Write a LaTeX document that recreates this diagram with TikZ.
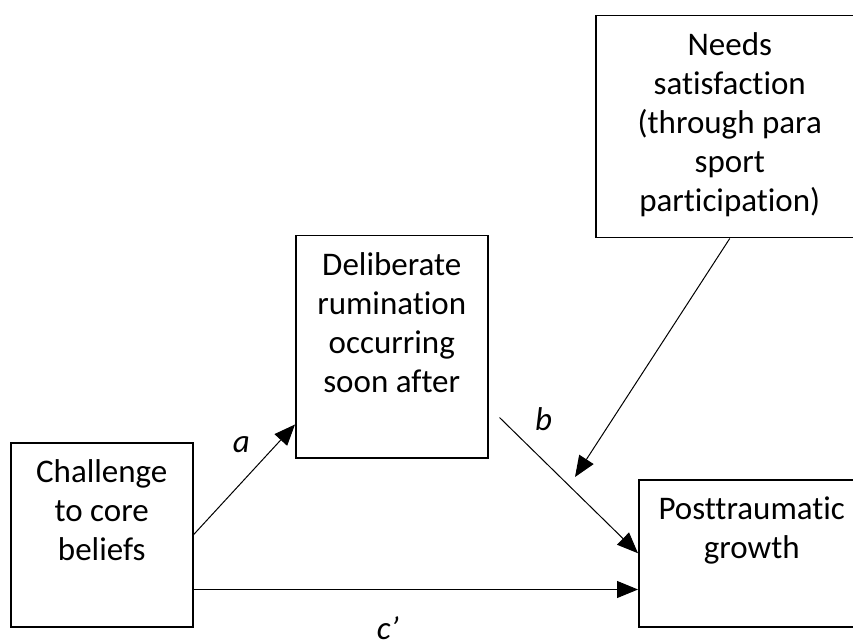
\documentclass[tikz,border=0pt]{standalone}
\usepackage{fontspec}
\setmainfont{Carlito}[Ligatures=NoCommon]
\usepackage{tikz}
\usetikzlibrary{arrows.meta}
% text sits at the top of each box
\newcommand{\boxtext}[3]{\parbox[c][#2][t]{#1}{\centering\rule{0pt}{40pt}#3}}
\tikzset{
    box/.style={rectangle, draw, line width=1.5pt, inner sep=0pt, anchor=north west, font=\fontsize{33pt}{39pt}\selectfont},
    arrow/.style={-{Triangle[length=21pt, width=17pt]}, line width=1pt},
    pathlabel/.style={inner sep=0pt, font=\fontsize{33pt}{39pt}\selectfont\itshape}
}
\begin{document}
\begin{tikzpicture}[x=1pt, y=-1pt]
            \path[use as bounding box, fill=white] (0,0) rectangle (853,644);

            \node (chal) [box] at (10,442) {\boxtext{182pt}{184pt}{Challenge\\to core\\beliefs}};
            \node (delib) [box] at (295,235) {\boxtext{192pt}{222pt}{Deliberate\\rumination\\occurring\\soon after}};
            \node (needs) [box] at (595,15) {\boxtext{268pt}{222pt}{Needs\\satisfaction\\(through para\\sport\\participation)}};
            \node (growth) [box] at (638,479) {\boxtext{226pt}{147pt}{Posttraumatic\\growth}};

            \coordinate (cstart) at ([yshift=38pt]chal.south east);
            \coordinate (bstart) at ([xshift=11pt, yshift=41pt]delib.south east);
            \coordinate (modtip) at (575,477);

            \draw[arrow] (chal.east) -- node[pathlabel, xshift=-3pt, yshift=35pt] {a} ([yshift=34pt]delib.south west);
            \draw[arrow] (bstart) -- node[pathlabel, pos=0, xshift=44pt, yshift=-2pt] {b} (growth.west);
            \draw[arrow] (cstart) -- node[pathlabel, xshift=-28pt, yshift=-39pt] {c’} (cstart -| growth.west);
            \draw[arrow] (needs.south) -- (modtip);
        \end{tikzpicture}
\end{document}
